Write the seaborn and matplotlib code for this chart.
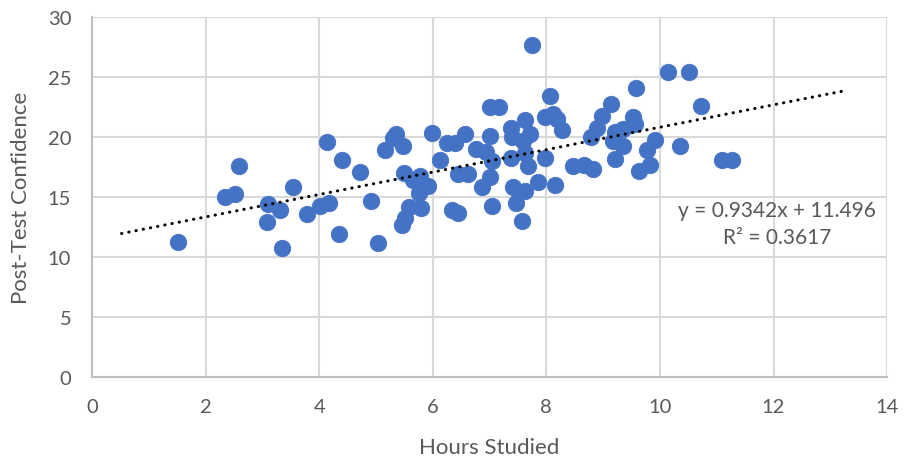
import numpy as np
import pandas as pd
import matplotlib
matplotlib.use("Agg")
import matplotlib.pyplot as plt
import seaborn as sns

# values
hours = [1.52, 2.34, 2.52, 2.59, 3.08, 3.10, 3.31, 3.34, 3.53, 3.78,
         4.01, 4.17, 4.13, 4.41, 4.35, 4.71, 4.91, 5.04, 5.16, 5.36,
         5.30, 5.48, 5.50, 5.66, 5.77, 5.92, 5.75, 5.58, 5.79, 5.51,
         5.45, 5.98, 6.12, 6.25, 6.40, 6.45, 6.62, 6.57, 6.33, 6.45,
         6.77, 6.93, 7.01, 7.05, 7.01, 6.87, 7.04, 7.38, 7.39, 7.62,
         7.72, 7.37, 7.63, 7.68, 7.42, 7.62, 7.46, 7.57, 7.86, 7.97,
         8.16, 8.28, 8.47, 8.66, 7.74, 7.01, 7.17, 8.06, 7.98, 8.12,
         8.18, 7.59, 10.15, 10.52, 10.72, 9.57, 9.14, 8.98, 8.89, 8.78,
         9.21, 9.18, 9.35, 9.53, 9.56, 9.35, 9.91, 9.77, 10.35, 9.21,
         9.82, 9.64, 8.83, 11.10, 11.27]
confidence = [11.3, 15.05, 15.3, 17.6, 12.97, 14.4, 13.97, 10.75, 15.83, 13.6,
              14.3, 14.5, 19.6, 18.1, 11.94, 17.1, 14.65, 11.17, 18.9, 20.3,
              19.95, 19.25, 17.05, 16.45, 16.8, 15.97, 15.35, 14.2, 14.1, 13.25,
              12.7, 20.35, 18.1, 19.5, 19.5, 16.9, 16.9, 20.25, 13.9, 13.65,
              19.0, 18.75, 20.1, 18.0, 16.67, 15.85, 14.3, 20.8, 20.0, 21.45,
              20.3, 18.3, 18.7, 17.6, 15.85, 15.5, 14.5, 13.0, 16.3, 18.3,
              16.0, 20.6, 17.6, 17.7, 27.7, 22.55, 22.55, 23.45, 21.7, 21.9,
              21.5, 19.7, 25.4, 25.45, 22.6, 24.1, 22.8, 21.8, 20.8, 20.0,
              20.4, 19.7, 20.7, 21.7, 21.1, 19.3, 19.8, 18.9, 19.25, 18.2,
              17.7, 17.2, 17.36, 18.1, 18.1]

slope = 0.9342
intercept = 11.496
r_squared = 0.3617

df = pd.DataFrame({"Hours Studied": hours, "Post-Test Confidence": confidence})

sns.set_theme(style="white")
plt.rcParams["font.family"] = ["Lato", "DejaVu Sans"]

text_gray = "#595959"
grid_gray = "#D9D9D9"
axis_gray = "#BFBFBF"
blue = "#4472C4"

fig = plt.figure(figsize=(9.05, 4.64), dpi=100)
ax = fig.add_axes([0.1017, 0.1847, 0.8785, 0.7759])

sns.scatterplot(data=df, x="Hours Studied", y="Post-Test Confidence", ax=ax,
                color=blue, s=140, edgecolor=blue, linewidth=0.6, zorder=3)

# linear trendline (extends 1 back, 2 forward like Excel forecast)
x_line = np.array([min(hours) - 1, max(hours) + 2])
ax.plot(x_line, slope * x_line + intercept, color="black",
        linestyle=(0, (0.1, 2.3)), linewidth=2.2, dash_capstyle="round", zorder=4)

ax.text(12.06, 12.8, f"y = {slope}x + {intercept}\nR\u00b2 = {r_squared}",
        ha="center", va="center", fontsize=15, color=text_gray,
        linespacing=1.4, zorder=5)

ax.set_xlim(0, 14)
ax.set_ylim(0, 30)
ax.set_xticks(range(0, 15, 2))
ax.set_yticks(range(0, 31, 5))
ax.grid(True, color=grid_gray, linewidth=1.5)
ax.set_axisbelow(True)

for side in ["top", "right"]:
    ax.spines[side].set_visible(False)
for side in ["left", "bottom"]:
    ax.spines[side].set_color(axis_gray)
    ax.spines[side].set_linewidth(1.5)

ax.tick_params(axis="x", length=0, pad=15, labelsize=14.5, labelcolor=text_gray)
ax.tick_params(axis="y", length=0, pad=15, labelsize=14.5, labelcolor=text_gray)

ax.set_xlabel("Hours Studied", fontsize=16, color=text_gray, labelpad=16)
ax.set_ylabel("Post-Test Confidence", fontsize=16, color=text_gray, labelpad=12)

fig.savefig("out.png", dpi=100)
